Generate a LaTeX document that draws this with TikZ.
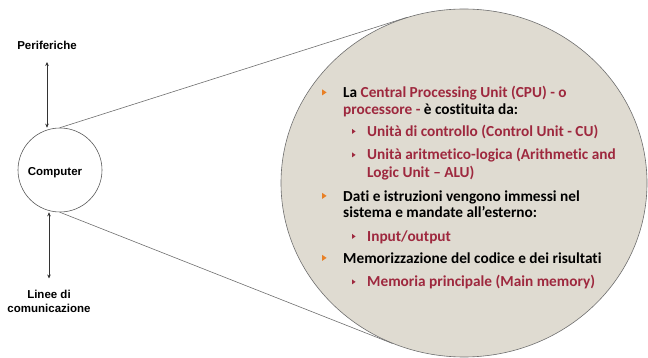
\documentclass[tikz,border=0pt]{standalone}
\usepackage{fontspec}
\usetikzlibrary{shapes.geometric,arrows.meta}
\newfontfamily\carlito[Ligatures=NoCommon]{Carlito}
\newfontfamily\arialfont{Liberation Sans}
\definecolor{cpufill}{RGB}{223,219,209}
\definecolor{cpured}{RGB}{158,40,62}
\definecolor{bulorange}{RGB}{232,128,38}
\definecolor{edgegray}{RGB}{110,110,110}
\newcommand\hl[1]{\textcolor{cpured}{#1}}
% bullets: orange for items, red for sub-items; argument = baseline y
\newcommand\mainbullet[1]{\fill[bulorange] (322,#1-8.7) -- ++(4.6,3.1) -- ++(-4.6,3.1) -- cycle;}
\newcommand\subbullet[1]{\fill[cpured] (352,#1-7.6) -- ++(3.6,2.5) -- ++(-3.6,2.5) -- cycle;}
\begin{document}
\begin{tikzpicture}[x=1pt,y=-1pt,
  lbl/.style={inner sep=0pt,align=center,font=\arialfont\bfseries\fontsize{11.5}{14}\selectfont},
  line/.style={anchor=base west,inner sep=0pt,font=\carlito\bfseries\fontsize{15.3}{18}\selectfont},
  sub/.style={line,text=cpured},
  arr/.style={{Stealth[length=4pt,width=3.6pt]}-{Stealth[length=4pt,width=3.6pt]},line width=0.6pt,black!80},
  edge/.style={draw=edgegray,line width=0.6pt}]
\useasboundingbox (0,0) rectangle (648,358);
\begin{scope}
\clip (0,0) rectangle (648,358);
% magnified view of the processor
\node[ellipse,draw=edgegray,fill=cpufill,line width=0.6pt,inner sep=0pt,
      minimum width=366,minimum height=348] (cpu) at (464,183) {};
\end{scope}
% the computer and its connections
\node[circle,draw=black!65,line width=0.6pt,minimum size=84,inner sep=0pt] (comp) at (60,170) {};
\node[lbl] (comptxt) at (55,173) {Computer};
\node[lbl] (peri) at (47,45) {Periferiche};
\node[lbl] (linee) at (49,301.5) {Linee di\\comunicazione};
\coordinate (ptop) at ([yshift=-17]peri.center);
\coordinate (pbot) at ([yshift=23]linee.center);
\draw[arr] (ptop) -- (ptop |- comp.north);
\draw[arr] (pbot) -- (pbot |- comp.south);
% zoom lines
\draw[edge] (comp.north) -- (cpu.109.5);
\draw[edge] (comp.south) -- (cpu.246.3);
% contents
\mainbullet{98}
\node[line] (l1) at (343,98) {La \hl{Central Processing Unit (CPU) - o}};
\node[line] (l2) at (343,114.5) {\hl{processore -} è costituita da:};
\subbullet{136.5}
\node[sub] (s1) at (367,136.5) {Unità di controllo (Control Unit - CU)};
\subbullet{160}
\node[sub] (s2a) at (367,160) {Unità aritmetico-logica (Arithmetic and};
\node[sub] (s2b) at (367,178) {Logic Unit – ALU)};
\mainbullet{201.5}
\node[line] (i2a) at (343,201.5) {Dati e istruzioni vengono immessi nel};
\node[line] (i2b) at (343,218) {sistema e mandate all’esterno:};
\subbullet{241.5}
\node[sub] (s3) at (367,241.5) {Input/output};
\mainbullet{263.5}
\node[line] (i3) at (343,263.5) {Memorizzazione del codice e dei risultati};
\subbullet{287}
\node[sub] (s4) at (367,287) {Memoria principale (Main memory)};
\end{tikzpicture}
\end{document}
